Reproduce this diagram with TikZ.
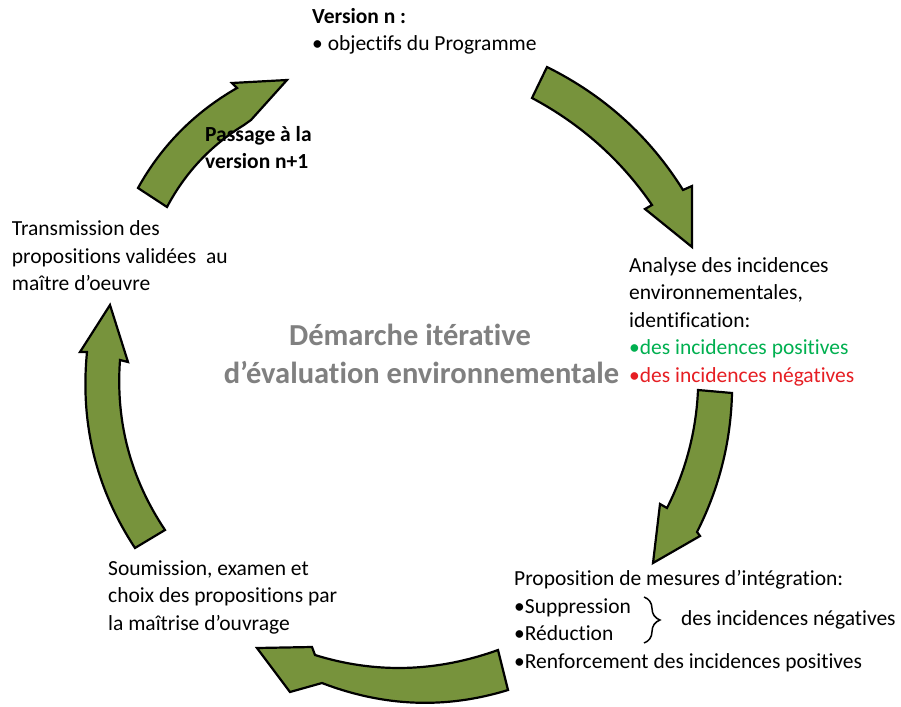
\documentclass[tikz,border=0pt]{standalone}
\usepackage{fontspec}
\setmainfont{Carlito}[Ligatures=NoCommon]
\usetikzlibrary{decorations.pathreplacing,calc}
\definecolor{arrowgreen}{RGB}{119,147,60}
\definecolor{posgreen}{RGB}{0,176,80}
\definecolor{negred}{RGB}{230,30,35}
\definecolor{titlegray}{RGB}{128,128,128}
\begin{document}
\begin{tikzpicture}[x=1pt,y=-1pt,
  cyclearrow/.style={fill=arrowgreen, draw=black, line width=2.2pt, line join=miter},
  txt/.style={anchor=base west, align=left, inner sep=0pt, font=\fontsize{21.5}{27.5}\selectfont},
  ttl/.style={anchor=base, inner sep=0pt, text=titlegray, font=\bfseries\fontsize{30.5}{38}\selectfont},
  bracestyle/.style={decorate, decoration={brace, amplitude=16pt}, line width=1.5pt}]
\useasboundingbox[fill=white] (0,0) rectangle (901,706);

% arrow A (left -> top)
\coordinate (a1) at (138,188); \coordinate (a2) at (237,88); \coordinate (aq) at (173.25,124.5);
\coordinate (a3) at (244,125); \coordinate (a4) at (167,207); \coordinate (ar) at (194.25,155.5);
\draw[cyclearrow] (a1) .. controls ($(a1)!2/3!(aq)$) and ($(a2)!2/3!(aq)$) .. (a2)
  -- (232,83) -- (287,80) -- (251,120)
  -- (a3) .. controls ($(a3)!2/3!(ar)$) and ($(a4)!2/3!(ar)$) .. (a4) -- cycle;
% arrow B (top -> right)
\coordinate (b1) at (547,67); \coordinate (b2) at (683,190); \coordinate (bq) at (633,109.75);
\coordinate (b3) at (652,205); \coordinate (b4) at (532,98); \coordinate (br) at (605.5,137.25);
\draw[cyclearrow] (b1) .. controls ($(b1)!2/3!(bq)$) and ($(b2)!2/3!(bq)$) .. (b2)
  -- (692,186) -- (692,247) -- (645,209)
  -- (b3) .. controls ($(b3)!2/3!(br)$) and ($(b4)!2/3!(br)$) .. (b4) -- cycle;
% arrow C (right -> bottom right)
\coordinate (c1) at (732,393); \coordinate (c2) at (697,532); \coordinate (cq) at (730.25,466.25);
\coordinate (c3) at (667,508); \coordinate (c4) at (698,390); \coordinate (cr) at (695.25,452);
\draw[cyclearrow] (c1) .. controls ($(c1)!2/3!(cq)$) and ($(c2)!2/3!(cq)$) .. (c2)
  -- (700,536) -- (653,563) -- (660,504)
  -- (c3) .. controls ($(c3)!2/3!(cr)$) and ($(c4)!2/3!(cr)$) .. (c4) -- cycle;
% arrow D (bottom)
\coordinate (d1) at (498,650); \coordinate (d2) at (315,655); \coordinate (dq) at (405.75,683.25);
\coordinate (d3) at (322,683); \coordinate (d4) at (508,690); \coordinate (dr) at (415,718.75);
\draw[cyclearrow] (d1) .. controls ($(d1)!2/3!(dq)$) and ($(d2)!2/3!(dq)$) .. (d2)
  -- (312,647) -- (257,648) -- (290,692)
  -- (d3) .. controls ($(d3)!2/3!(dr)$) and ($(d4)!2/3!(dr)$) .. (d4) -- cycle;
% arrow E (left)
\coordinate (e1) at (135,548); \coordinate (e2) at (87,352); \coordinate (eq) at (76.5,459);
\coordinate (e3) at (120,360); \coordinate (e4) at (165,530); \coordinate (er) at (113.25,452.5);
\draw[cyclearrow] (e1) .. controls ($(e1)!2/3!(eq)$) and ($(e2)!2/3!(eq)$) .. (e2)
  -- (80,352) -- (110,305) -- (128,362)
  -- (e3) .. controls ($(e3)!2/3!(er)$) and ($(e4)!2/3!(er)$) .. (e4) -- cycle;

% texts (base anchor = baseline of the last line)
\node[txt] (vn) at (312,50.7) {\textbf{Version n :}\\• objectifs du Programme};
\node[txt, font=\bfseries\fontsize{21.5}{27.5}\selectfont] (pass) at (205,168.5) {Passage à la\\version n+1};
\node[txt] (anal) at (629,382) {Analyse des incidences\\environnementales,\\identification:\\\textcolor{posgreen}{•des incidences positives}\\\textcolor{negred}{•des incidences négatives}};
\node[txt] (prop) at (514,668.3) {Proposition de mesures d’intégration:\\•Suppression\\•Réduction\\•Renforcement des incidences positives};
\node[txt] (neg) at (681,625) {des incidences négatives};
\coordinate (bt) at (644,597);
\coordinate (bb) at (644,643);
\draw[bracestyle] (bt) -- (bb);
\node[txt] (soum) at (108,630) {Soumission, examen et\\choix des propositions par\\la maîtrise d’ouvrage};
\node[txt] (trans) at (11.7,290.5) {Transmission des\\propositions validées\ \ au\\maître d’oeuvre};
\node[ttl] (t1) at (410,345) {Démarche itérative};
\node[ttl] (t2) at (421.5,383) {d’évaluation environnementale};
\end{tikzpicture}
\end{document}
